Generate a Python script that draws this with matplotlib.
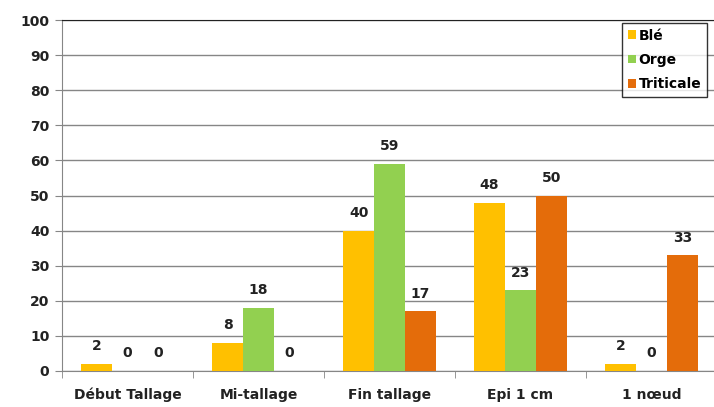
import numpy as np
import matplotlib.pyplot as plt

# data
categories = ['Début Tallage', 'Mi-tallage', 'Fin tallage', 'Epi 1 cm', '1 nœud']
ble = [2, 8, 40, 48, 2]
orge = [0, 18, 59, 23, 0]
triticale = [0, 0, 17, 50, 33]
series = ['Blé', 'Orge', 'Triticale']
colors = ['#FFC000', '#92D050', '#E46C0A']

plt.rcParams['font.family'] = ['DejaVu Sans']

fig = plt.figure(figsize=(7.14, 4.07), dpi=100)
ax = fig.add_axes([62 / 714, 1 - 371 / 407, (717 - 62) / 714, (371 - 20) / 407])

x = np.arange(len(categories))
w = 0.236
for i, (vals, name, c) in enumerate(zip([ble, orge, triticale], series, colors)):
    pos = x + (i - 1) * w
    ax.bar(pos, vals, width=w, color=c, label=name, zorder=3)
    for px, v in zip(pos, vals):
        ax.text(px, v + 3, str(v), ha='center', va='bottom', fontsize=10,
                fontweight='bold', color='#222222')

ax.set_xlim(-0.5, len(categories) - 0.5)
ax.set_ylim(0, 100)
ax.set_yticks(range(0, 101, 10))
ax.set_xticks(x)
ax.set_xticklabels(categories, fontsize=10, fontweight='bold', color='#222222')
ax.tick_params(axis='x', length=0, pad=12)
ax.set_xticks(np.arange(-0.5, len(categories), 1), minor=True)
ax.tick_params(axis='x', which='minor', length=5, color='#868686')
ax.tick_params(axis='y', length=5, color='#868686', labelsize=10, pad=4)
for lab in ax.get_yticklabels():
    lab.set_fontweight('bold')
    lab.set_color('#222222')

ax.yaxis.grid(True, color='#868686', linewidth=1)
ax.set_axisbelow(True)
ax.spines['right'].set_visible(False)
ax.spines['top'].set_color('#222222')
ax.spines['left'].set_color('#868686')
ax.spines['bottom'].set_color('#868686')

leg = ax.legend(loc='upper left', bbox_to_anchor=((622 - 62) / 655, 1 - 3 / 351),
                frameon=True, fancybox=False, edgecolor='black', fontsize=10,
                handlelength=0.6, handleheight=0.6, handletextpad=0.2,
                borderpad=0.4, labelspacing=0.75, borderaxespad=0)
for t in leg.get_texts():
    t.set_fontweight('bold')
leg.get_frame().set_linewidth(1)

fig.savefig('out.png', dpi=100)
